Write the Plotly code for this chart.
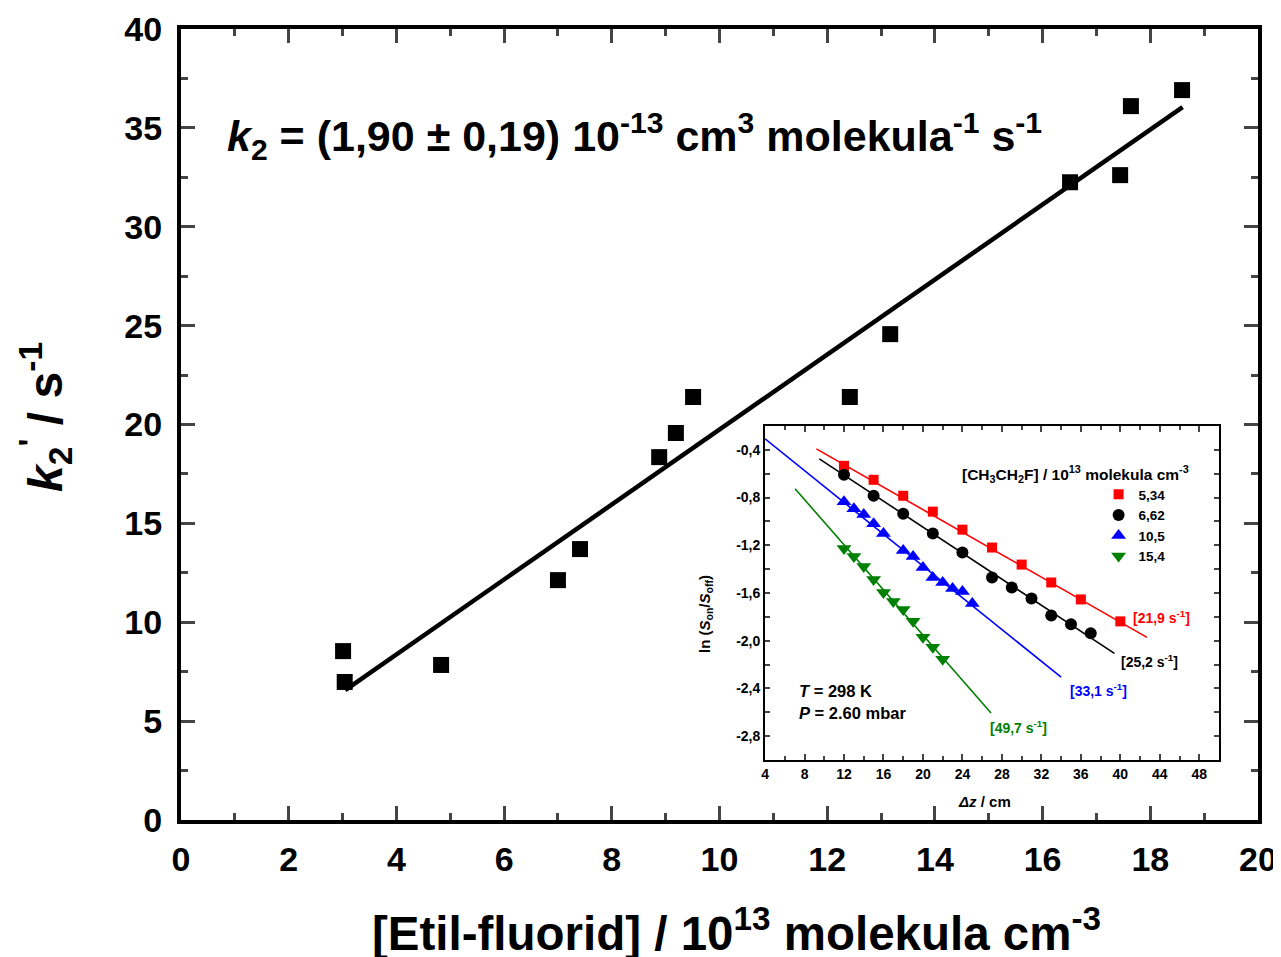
import plotly.graph_objects as go

# ---------------- main chart data ----------------
conc = [3.01, 3.04, 4.83, 7.00, 7.41, 8.88, 9.19, 9.51, 12.42, 13.17, 16.51, 17.44, 17.64, 18.59]
k2p = [8.54, 6.98, 7.84, 12.13, 13.70, 18.35, 19.57, 21.39, 21.39, 24.57, 32.25, 32.61, 36.10, 36.91]
fit_x = [3.05, 18.6]
fit_y = [6.57, 36.05]

# ---------------- inset data ----------------
red_x = [12, 15, 18, 21, 24, 27, 30, 33, 36, 40]
red_y = [-0.534, -0.651, -0.785, -0.918, -1.069, -1.219, -1.362, -1.512, -1.654, -1.838]
blk_x = [12, 15, 18, 21, 24, 27, 29, 31, 33, 35, 37]
blk_y = [-0.609, -0.785, -0.935, -1.102, -1.261, -1.470, -1.554, -1.646, -1.788, -1.863, -1.938]
blu_x = [12, 13, 14, 15, 16, 18, 19, 20, 21, 22, 23, 24, 25]
blu_y = [-0.835, -0.893, -0.943, -1.019, -1.102, -1.244, -1.295, -1.387, -1.470, -1.512, -1.562, -1.587, -1.688]
grn_x = [12, 13, 14, 15, 16, 17, 18, 19, 20, 21, 22]
grn_y = [-1.228, -1.295, -1.378, -1.487, -1.596, -1.671, -1.738, -1.838, -1.972, -2.055, -2.156]

red_fit_x, red_fit_y = [9.2, 42.7], [-0.392, -1.972]
blk_fit_x, blk_fit_y = [9.5, 39.4], [-0.475, -2.106]
blu_fit_x, blu_fit_y = [4.0, 34.0], [-0.308, -2.306]
grn_fit_x, grn_fit_y = [7.04, 26.9], [-0.726, -2.607]

legend_labels = ["5,34", "6,62", "10,5", "15,4"]
rate_labels = ["[21,9 s<sup>-1</sup>]", "[25,2 s<sup>-1</sup>]", "[33,1 s<sup>-1</sup>]", "[49,7 s<sup>-1</sup>]"]

main_xticks = list(range(0, 21, 2))
main_yticks = list(range(0, 41, 5))
inset_xticks = list(range(4, 49, 4))
inset_yticks = [-0.4, -0.8, -1.2, -1.6, -2.0, -2.4, -2.8]
inset_yticktext = ["-0,4", "-0,8", "-1,2", "-1,6", "-2,0", "-2,4", "-2,8"]

FONT = "Arial, Liberation Sans, sans-serif"
RED, BLACK, BLUE, GREEN = "#ff0000", "#000000", "#0000ff", "#008000"

fig = go.Figure()

# main
fig.add_trace(go.Scatter(x=fit_x, y=fit_y, mode="lines", line=dict(color="black", width=4.5),
                         showlegend=False, xaxis="x", yaxis="y"))
fig.add_trace(go.Scatter(x=conc, y=k2p, mode="markers",
                         marker=dict(symbol="square", size=16, color="black"),
                         showlegend=False, xaxis="x", yaxis="y"))

# inset fits
for fx, fy, c in [(red_fit_x, red_fit_y, RED), (blk_fit_x, blk_fit_y, BLACK),
                  (blu_fit_x, blu_fit_y, BLUE), (grn_fit_x, grn_fit_y, GREEN)]:
    fig.add_trace(go.Scatter(x=fx, y=fy, mode="lines", line=dict(color=c, width=1.6),
                             showlegend=False, xaxis="x2", yaxis="y2"))

# inset points
for xs, ys, c, sym, sz, lab in [(red_x, red_y, RED, "square", 10, legend_labels[0]),
                                 (blk_x, blk_y, BLACK, "circle", 12, legend_labels[1]),
                                 (blu_x, blu_y, BLUE, "triangle-up", 13, legend_labels[2]),
                                 (grn_x, grn_y, GREEN, "triangle-down", 13, legend_labels[3])]:
    fig.add_trace(go.Scatter(x=xs, y=ys, mode="markers", name=lab,
                             marker=dict(symbol=sym, size=sz, color=c),
                             showlegend=True, xaxis="x2", yaxis="y2"))

axis_common = dict(showline=True, linecolor="black", mirror="ticks", ticks="inside",
                   showgrid=False, zeroline=False, automargin=False)

fig.update_layout(
    width=1273, height=949,
    margin=dict(l=173, r=23, t=21, b=137),
    paper_bgcolor="white", plot_bgcolor="white",
    font=dict(family=FONT, color="black"),
    xaxis=dict(range=[0, 20], tickvals=main_xticks, linewidth=4, tickwidth=3, ticklen=14,
               minor=dict(dtick=1, tick0=0, ticklen=7, tickwidth=3, ticks="inside"),
               tickfont=dict(size=34, family=FONT, weight="bold"), ticklabelstandoff=6,
               domain=[0, 1], anchor="y", **axis_common),
    yaxis=dict(range=[0, 40], tickvals=main_yticks, linewidth=4, tickwidth=3, ticklen=14,
               minor=dict(dtick=2.5, tick0=0, ticklen=7, tickwidth=3, ticks="inside"),
               tickfont=dict(size=34, family=FONT, weight="bold"), ticklabelstandoff=8,
               domain=[0, 1], anchor="x", **axis_common),
    xaxis2=dict(range=[4, 50], tickvals=inset_xticks, linewidth=2, tickwidth=1.5, ticklen=6,
                minor=dict(dtick=2, tick0=4, ticklen=4, tickwidth=1.5, ticks="inside"),
                tickfont=dict(size=14, family=FONT, weight="bold"),
                domain=[0.5423, 0.9638], anchor="y2", **axis_common),
    yaxis2=dict(range=[-3.0, -0.2], tickvals=inset_yticks, ticktext=inset_yticktext,
                linewidth=2, tickwidth=1.5, ticklen=5,
                minor=dict(dtick=0.2, tick0=-0.2, ticklen=5, tickwidth=1.5, ticks="inside"),
                tickfont=dict(size=14, family=FONT, weight="bold"),
                domain=[0.0759, 0.4981], anchor="x2", **axis_common),
    legend=dict(x=0.852, y=0.431, xanchor="left", yanchor="top",
                font=dict(size=13.5, family=FONT, weight="bold"),
                bgcolor="rgba(0,0,0,0)", tracegroupgap=0, itemwidth=30),
)

ann = []
# main equation
ann.append(dict(xref="x", yref="y", x=0.82, y=34.6, xanchor="left", yanchor="middle", showarrow=False,
                text="<i>k</i><sub>2</sub> = (1,90 ± 0,19) 10<sup>-13</sup> cm<sup>3</sup> molekula<sup>-1</sup> s<sup>-1</sup>",
                font=dict(size=43, family=FONT, weight="bold")))
# main axis titles
ann.append(dict(xref="paper", yref="paper", x=0.516, y=-0.139, xanchor="center", yanchor="middle", showarrow=False,
                text="[Etil-fluorid] / 10<sup>13</sup> molekula cm<sup>-3</sup>",
                font=dict(size=47.5, family=FONT, weight="bold")))
ann.append(dict(xref="paper", yref="paper", x=-0.126, y=0.51, xanchor="center", yanchor="middle", showarrow=False,
                textangle=-90, text="<i>k</i><sub>2</sub><sup>'</sup> / s<sup>-1</sup>",
                font=dict(size=48, family=FONT, weight="bold")))
# inset axis titles
ann.append(dict(xref="paper", yref="paper", x=0.4865, y=0.2604, xanchor="center", yanchor="middle", showarrow=False,
                textangle=-90, text="ln (<i>S</i><sub>on</sub>/<i>S</i><sub>off</sub>)",
                font=dict(size=15, family=FONT, weight="bold")))
ann.append(dict(xref="paper", yref="paper", x=0.7465, y=0.024, xanchor="center", yanchor="middle", showarrow=False,
                text="<i>Δz</i> / cm", font=dict(size=15, family=FONT, weight="bold")))
# legend title
ann.append(dict(xref="x2", yref="y2", x=35.5, y=-0.60, xanchor="center", yanchor="middle", showarrow=False,
                text="[CH<sub>3</sub>CH<sub>2</sub>F] / 10<sup>13</sup> molekula cm<sup>-3</sup>",
                font=dict(size=15.5, family=FONT, weight="bold")))
# rate labels
for (lx, ly, c), t in zip([(41.1, -1.80, RED), (39.9, -2.17, BLACK), (34.7, -2.415, BLUE), (26.6, -2.72, GREEN)],
                          rate_labels):
    ann.append(dict(xref="x2", yref="y2", x=lx, y=ly, xanchor="left", yanchor="middle", showarrow=False,
                    text=t, font=dict(size=14, family=FONT, weight="bold", color=c)))
# T, P
ann.append(dict(xref="x2", yref="y2", x=7.25, y=-2.42, xanchor="left", yanchor="middle", showarrow=False,
                text="<i>T</i> = 298 K", font=dict(size=16.5, family=FONT, weight="bold")))
ann.append(dict(xref="x2", yref="y2", x=7.25, y=-2.61, xanchor="left", yanchor="middle", showarrow=False,
                text="<i>P</i> = 2.60 mbar", font=dict(size=16.5, family=FONT, weight="bold")))

fig.update_layout(annotations=ann)
fig.write_html("out.html")
